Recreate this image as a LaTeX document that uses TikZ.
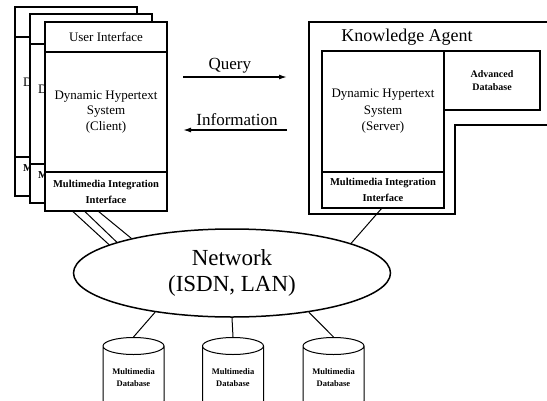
\documentclass[tikz,border=0pt]{standalone}
\usepackage{fontspec}
\setmainfont{Liberation Serif}
\usepackage{tikz}
\usetikzlibrary{positioning,shapes.geometric,arrows.meta}
\tikzset{every node/.style={align=center}, >={Latex[length=8pt,width=5pt]},
  box/.style={draw, fill=white, line width=1.2pt, inner sep=0pt, outer sep=0pt, minimum width=122pt},
  hyp/.style={font=\fontsize{13}{15.5}\selectfont},
  mii/.style={font=\fontsize{10.5}{16}\selectfont\bfseries},
  link/.style={line width=1pt},
  msg/.style={->, line width=1.4pt},
  db/.style={draw, cylinder, shape border rotate=90, aspect=0.4, line width=1pt,
    minimum width=61pt, minimum height=72pt, inner sep=0pt,
    font=\fontsize{8.5}{12}\selectfont\bfseries}}

\begin{document}
\begin{tikzpicture}[x=1pt, y=-1pt]
  \path[use as bounding box, clip] (0,0) rectangle (547,400);

  \node [draw, ellipse, line width=1.5pt, minimum width=317pt, minimum height=88pt, inner sep=0pt,
    font=\fontsize{23}{26}\selectfont] (net) at (232,273) {Network\\(ISDN, LAN)};

  % clients, back to front
  \foreach \n/\dx/\dy/\sx/\ang in {cb/30/15/41/167.7, cm/15/8/46/165.8} {
    \node [box, minimum height=30pt, anchor=north west] (u\n) at (45-\dx,22-\dy) {};
    \node [box, minimum height=120pt, below=0pt of u\n] (d\n) {};
    \node [box, minimum height=39pt, below=0pt of d\n] (m\n) {};
    \node [hyp, anchor=west, inner sep=0pt] (ld\n) at ([xshift=8pt,yshift=15pt]d\n.west) {D};
    \node [mii, anchor=west, inner sep=0pt] (lm\n) at ([xshift=8pt,yshift=8pt]m\n.west) {M};
    \draw [link] ([xshift=\sx pt]m\n.south west) -- (net.\ang);
  }
  \node [box, hyp, minimum height=30pt, anchor=north west] (ui) at (45,22) {User Interface};
  \node [box, hyp, minimum height=120pt, below=0pt of ui] (cdhs) {Dynamic Hypertext\\System\\(Client)};
  \node [box, mii, minimum height=39pt, below=0pt of cdhs] (cmii) {Multimedia Integration\\Interface};
  \draw [link] ([xshift=53pt]cmii.south west) -- (net.161.8);

  % knowledge agent
  \draw [line width=1.5pt] (560,125) -- (455,125) -- (455,214) -- (309,214) -- (309,22) -- (560,22);
  \node [font=\fontsize{18}{20}\selectfont] (ka) at (407,37) {Knowledge Agent};
  \node [box, font=\fontsize{13}{16.5}\selectfont, minimum height=121pt, anchor=north west] (sdhs) at (322,51) {Dynamic Hypertext\\System\\(Server)};
  \node [box, mii, minimum height=36pt, below=0pt of sdhs] (smii) {Multimedia Integration\\Interface};
  \node [box, font=\fontsize{10}{13}\selectfont\bfseries, minimum width=96pt, minimum height=59pt, anchor=north west] (adb) at (sdhs.north east) {Advanced\\Database};
  \draw [link] ([xshift=60pt]smii.south west) -- (net.14.2);

  \coordinate (q0) at (183,77);
  \coordinate (q1) at (287,77);
  \coordinate (i0) at (287,130);
  \coordinate (i1) at (183,130);
  \path [msg] (q0) edge node [above, pos=.45, font=\fontsize{17}{19}\selectfont] (ql) {Query} (q1)
              (i0) edge node [above, pos=.48, font=\fontsize{17}{19}\selectfont] (il) {Information} (i1);

  % databases
  \foreach \i/\x/\ang in {1/133.5/207, 2/233/270, 3/333.5/333.6} {
    \node [db] (db\i) at (\x,378) {Multimedia\\Database};
    \draw [link] (net.\ang) -- (db\i.top);
  }
\end{tikzpicture}
\end{document}
